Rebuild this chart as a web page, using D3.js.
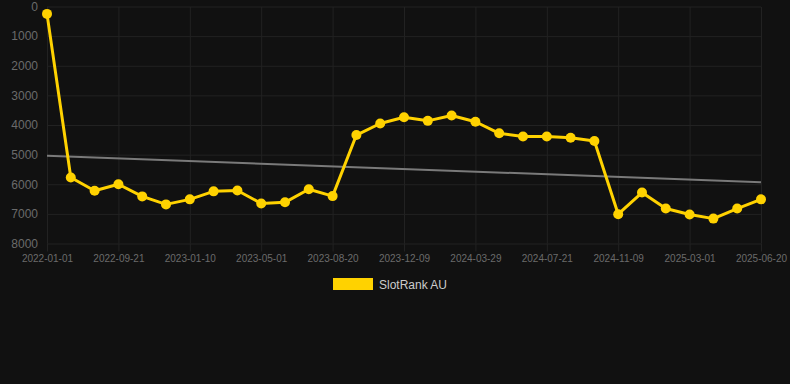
<!DOCTYPE html>
<html>
<head>
<meta charset="utf-8">
<script src="https://cdn.jsdelivr.net/npm/d3@7"></script>
<style>
  body { margin: 0; background: #111111; }
  svg { display: block; font-family: "Liberation Sans", Arial, sans-serif; }
  .axis path { display: none; }
  .grid line { stroke: #222222; }
  .grid path { display: none; }
  .axis text { fill: #6b6b6b; }
</style>
</head>
<body>
<script>
const WIDTH = 790, HEIGHT = 384;
const MARGIN = { left: 47, right: 29, top: 6.5, bottom: 141 };

// Dates of each sample
const dates = [
  "2022-01-01", "2022-07-09", "2022-08-15", "2022-09-21", "2022-10-28", "2022-12-04",
  "2023-01-10", "2023-02-16", "2023-03-25", "2023-05-01", "2023-06-07", "2023-07-14",
  "2023-08-20", "2023-09-26", "2023-11-02", "2023-12-09", "2024-01-15", "2024-02-21",
  "2024-03-29", "2024-05-06", "2024-06-13", "2024-07-21", "2024-08-27", "2024-10-03",
  "2024-11-09", "2024-12-16", "2025-01-22", "2025-03-01", "2025-04-07", "2025-05-14",
  "2025-06-20"
];
// Rank values (lower is better, axis reversed)
const ranks = [
  250, 5770, 6220, 6000, 6410, 6680,
  6510, 6240, 6210, 6650, 6610, 6170,
  6400, 4340, 3950, 3740, 3860, 3680,
  3890, 4280, 4390, 4390, 4430, 4540,
  7010, 6280, 6820, 7020, 7160, 6820,
  6510
];
// Trend line end values
const trend = [5040, 5930];
const tickDates = [
  "2022-01-01", "2022-09-21", "2023-01-10", "2023-05-01", "2023-08-20", "2023-12-09",
  "2024-03-29", "2024-07-21", "2024-11-09", "2025-03-01", "2025-06-20"
];
const yTicks = [0, 1000, 2000, 3000, 4000, 5000, 6000, 7000, 8000];
const seriesName = "SlotRank AU";
const COLOR = "#ffd200";

const svg = d3.select("body").append("svg").attr("width", WIDTH).attr("height", HEIGHT);

const x = d3.scalePoint()
  .domain(dates)
  .range([MARGIN.left, WIDTH - MARGIN.right]);

const y = d3.scaleLinear()
  .domain([0, 8000])
  .range([MARGIN.top, HEIGHT - MARGIN.bottom + 0.5]);

// Grid
svg.append("g")
  .attr("class", "grid")
  .attr("transform", `translate(0, ${HEIGHT - MARGIN.bottom + 0.5})`)
  .call(d3.axisBottom(x).tickValues(tickDates).tickSize(-(HEIGHT - MARGIN.bottom - MARGIN.top)).tickFormat(""));

svg.append("g")
  .attr("class", "grid")
  .attr("transform", `translate(${MARGIN.left}, 0)`)
  .call(d3.axisLeft(y).tickValues(yTicks).tickSize(-(WIDTH - MARGIN.left - MARGIN.right)).tickFormat(""));

// X axis
const xAxis = svg.append("g")
  .attr("class", "axis")
  .attr("transform", `translate(0, ${HEIGHT - MARGIN.bottom + 0.5})`)
  .call(d3.axisBottom(x).tickValues(tickDates).tickSize(8).tickPadding(3));
xAxis.selectAll("line").attr("stroke", "#222222");
xAxis.selectAll("text").attr("font-size", 10);

// Y axis
const yAxis = svg.append("g")
  .attr("class", "axis")
  .attr("transform", `translate(${MARGIN.left}, 0)`)
  .call(d3.axisLeft(y).tickValues(yTicks).tickSize(0).tickPadding(9).tickFormat(d3.format("d")));
yAxis.selectAll("text").attr("font-size", 12);

// Trend line
svg.append("line")
  .attr("x1", x(dates[0]))
  .attr("x2", x(dates[dates.length - 1]))
  .attr("y1", y(trend[0]))
  .attr("y2", y(trend[1]))
  .attr("stroke", "#7a7a7a")
  .attr("stroke-width", 2);

// Series
const line = d3.line()
  .x((d, i) => x(dates[i]))
  .y(d => y(d));

svg.append("path")
  .datum(ranks)
  .attr("fill", "none")
  .attr("stroke", COLOR)
  .attr("stroke-width", 3)
  .attr("stroke-linejoin", "round")
  .attr("d", line);

svg.append("g")
  .selectAll("circle")
  .data(ranks)
  .join("circle")
  .attr("cx", (d, i) => x(dates[i]))
  .attr("cy", d => y(d))
  .attr("r", 5)
  .attr("fill", COLOR);

// Legend
const legend = svg.append("g").attr("transform", "translate(333, 278)");
legend.append("rect")
  .attr("width", 40)
  .attr("height", 12)
  .attr("fill", COLOR);
legend.append("text")
  .attr("x", 46)
  .attr("y", 10.5)
  .attr("font-size", 12)
  .attr("fill", "#cccccc")
  .text(seriesName);
</script>
</body>
</html>
